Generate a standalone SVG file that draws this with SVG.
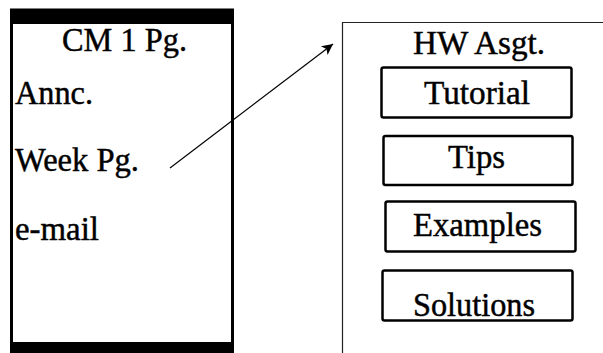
<svg xmlns="http://www.w3.org/2000/svg" width="603" height="353" viewBox="0 0 603 353">
<style>
text{font-family:"Liberation Serif","Times New Roman",serif;font-size:33px;fill:#000;stroke:#000;stroke-width:0.45}
.box{fill:#fff;stroke:#000;stroke-width:2.5}
.thin{stroke:#222;stroke-width:1.2;fill:none}
</style>
<defs>
<marker id="ah" viewBox="0 0 10 10" refX="10" refY="5" markerWidth="16" markerHeight="11" markerUnits="userSpaceOnUse" orient="auto">
<path d="M0,0 L10,5 L0,10 L2.5,5 Z" fill="#000"/>
</marker>
</defs>
<rect width="603" height="353" fill="#fff"/>
<g id="cm-page">
<rect x="11.5" y="10" width="221" height="340" fill="#fff" stroke="#000" stroke-width="3"/>
<rect x="10" y="9" width="224" height="15" fill="#000"/>
<rect x="10" y="342" width="224" height="11" fill="#000"/>
<text x="62" y="51" textLength="125" lengthAdjust="spacingAndGlyphs">CM 1 Pg.</text>
<text x="15" y="104" textLength="78" lengthAdjust="spacingAndGlyphs">Annc.</text>
<text x="15" y="171" textLength="124" lengthAdjust="spacingAndGlyphs">Week Pg.</text>
<text x="15" y="240" textLength="84" lengthAdjust="spacingAndGlyphs">e-mail</text>
</g>
<g id="hw-page">
<path class="thin" d="M342.5,353 V22.5 H603"/>
<text x="413" y="54" textLength="132" lengthAdjust="spacingAndGlyphs">HW Asgt.</text>
</g>
<g id="tutorial">
<rect class="box" x="381.5" y="67.5" width="190" height="50" rx="2"/>
<text x="424" y="104" textLength="106" lengthAdjust="spacingAndGlyphs">Tutorial</text>
</g>
<g id="tips">
<rect class="box" x="383.5" y="136" width="189" height="49" rx="2"/>
<text x="448" y="168" textLength="57" lengthAdjust="spacingAndGlyphs">Tips</text>
</g>
<g id="examples">
<rect class="box" x="385.5" y="201.5" width="190" height="50" rx="2"/>
<text x="413" y="236" textLength="129" lengthAdjust="spacingAndGlyphs">Examples</text>
</g>
<g id="solutions">
<rect class="box" x="382.5" y="270.5" width="190" height="50" rx="2"/>
<text x="413" y="316" textLength="122" lengthAdjust="spacingAndGlyphs">Solutions</text>
</g>
<g id="connectors">
<line x1="170" y1="168" x2="333" y2="44" stroke="#000" stroke-width="1.2" marker-end="url(#ah)"/>
</g>
</svg>
